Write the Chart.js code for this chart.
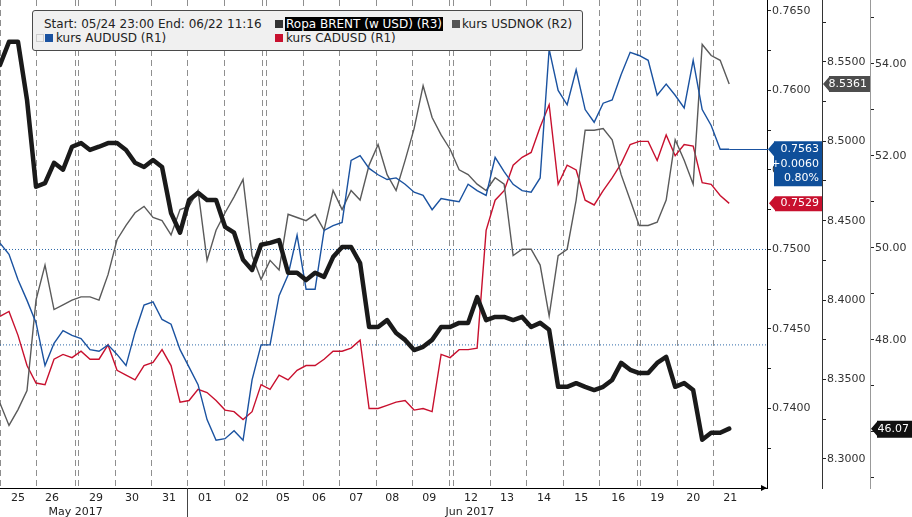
<!DOCTYPE html>
<html>
<head>
<meta charset="utf-8">
<script src="https://cdn.jsdelivr.net/npm/chart.js@4.4.0/dist/chart.umd.min.js"></script>
<style>
  html, body { margin: 0; padding: 0; background: #fff; }
  #wrap { position: relative; width: 912px; height: 517px; font-family: "DejaVu Sans", sans-serif; }
  #legend { position: absolute; left: 32px; top: 10px; width: 549px; height: 39px; background: #f0f0f0;
            border: 1px solid #4a4a4a; border-radius: 3px; font-size: 12px; color: #222; }
  #legend span { position: absolute; white-space: nowrap; line-height: 14px; height: 14px; }
  #legend i { position: absolute; width: 8px; height: 8px; }
  #legend .hl { background: #000; color: #fff; padding: 0 1px; }
</style>
</head>
<body>
<div id="wrap">
  <canvas id="myChart" width="912" height="517"></canvas>
  <div id="legend">
    <span style="left:11px;top:6px">Start: 05/24 23:00 End: 06/22 11:16</span>
    <i style="left:242px;top:9px;background:#333"></i>
    <span class="hl" style="left:252px;top:6px">Ropa BRENT (w USD) (R3)</span>
    <i style="left:419px;top:9px;background:#555"></i>
    <span style="left:429px;top:6px">kurs USDNOK (R2)</span>
    <i style="left:3px;top:23px;width:6px;height:6px;border:1px solid #ccc"></i>
    <i style="left:12px;top:23px;background:#1a52a0"></i>
    <span style="left:23px;top:20px">kurs AUDUSD (R1)</span>
    <i style="left:242px;top:23px;background:#c8102e"></i>
    <span style="left:253px;top:20px">kurs CADUSD (R1)</span>
  </div>
</div>
<script>
// one sample every ~6 trading hours, from 05/24 23:00 to 06/22 11:16
var brent = [
  53.98, 54.48, 54.48, 53.22, 51.33, 51.41, 51.85, 51.70, 52.20, 52.28,
  52.13, 52.20, 52.28, 52.28, 52.13, 51.85, 51.76, 51.91, 51.76, 50.76,
  50.33, 51.04, 51.20, 51.04, 51.04, 50.46, 50.33, 49.74, 49.52, 50.07,
  50.11, 50.17, 49.46, 49.46, 49.30, 49.46, 49.37, 49.80, 50.02, 50.02,
  49.67, 48.28, 48.28, 48.43, 48.15, 48.00, 47.78, 47.85, 48.00, 48.28,
  48.28, 48.37, 48.37, 48.93, 48.43, 48.50, 48.50, 48.43, 48.50, 48.28,
  48.37, 48.22, 46.98, 46.98, 47.06, 46.98, 46.91, 46.98, 47.13, 47.50,
  47.35, 47.28, 47.28, 47.50, 47.63, 46.98, 47.06, 46.91, 45.83, 45.98,
  45.98, 46.07
];
var usdnok = [
  8.335, 8.321, 8.331, 8.343, 8.400, 8.422, 8.394, 8.397, 8.400, 8.402,
  8.402, 8.400, 8.416, 8.438, 8.447, 8.455, 8.459, 8.452, 8.450, 8.441,
  8.457, 8.459, 8.469, 8.425, 8.444, 8.455, 8.465, 8.476, 8.428, 8.413,
  8.425, 8.419, 8.454, 8.452, 8.450, 8.454, 8.444, 8.469, 8.457, 8.469,
  8.463, 8.485, 8.498, 8.479, 8.469, 8.488, 8.508, 8.535, 8.515, 8.504,
  8.495, 8.482, 8.479, 8.473, 8.469, 8.477, 8.473, 8.428, 8.432, 8.432,
  8.422, 8.390, 8.428, 8.432, 8.463, 8.507, 8.507, 8.508, 8.501, 8.479,
  8.463, 8.447, 8.447, 8.449, 8.463, 8.501, 8.488, 8.473, 8.561, 8.554,
  8.551, 8.5361
];
var audusd = [
  0.7504, 0.7497, 0.7481, 0.7468, 0.7454, 0.7427, 0.7441, 0.7449, 0.7446, 0.7444,
  0.7437, 0.7436, 0.7440, 0.7434, 0.7427, 0.7448, 0.7465, 0.7467, 0.7456, 0.7453,
  0.7437, 0.7426, 0.7415, 0.7393, 0.7380, 0.7381, 0.7386, 0.7380, 0.7418, 0.7440,
  0.7440, 0.7471, 0.7484, 0.7509, 0.7475, 0.7475, 0.7512, 0.7515, 0.7517, 0.7556,
  0.7559, 0.7551, 0.7547, 0.7544, 0.7545, 0.7541, 0.7536, 0.7534, 0.7525, 0.7532,
  0.7531, 0.7530, 0.7541, 0.7537, 0.7534, 0.7558, 0.7549, 0.7541, 0.7537, 0.7536,
  0.7545, 0.7626, 0.7600, 0.7591, 0.7613, 0.7588, 0.7580, 0.7592, 0.7594, 0.7610,
  0.7624, 0.7622, 0.7619, 0.7597, 0.7604, 0.7597, 0.7589, 0.7619, 0.7588, 0.7578,
  0.7563, 0.7563
];
var cadusd = [
  0.7458, 0.7461, 0.7446, 0.7427, 0.7416, 0.7415, 0.7431, 0.7434, 0.7432, 0.7436,
  0.7431, 0.7431, 0.7440, 0.7424, 0.7421, 0.7418, 0.7427, 0.7429, 0.7437, 0.7427,
  0.7404, 0.7405, 0.7412, 0.7410, 0.7405, 0.7399, 0.7398, 0.7393, 0.7398, 0.7415,
  0.7412, 0.7421, 0.7418, 0.7424, 0.7427, 0.7427, 0.7431, 0.7436, 0.7436, 0.7438,
  0.7443, 0.7400, 0.7400, 0.7402, 0.7404, 0.7405, 0.7399, 0.7400, 0.7398, 0.7434,
  0.7432, 0.7437, 0.7437, 0.7438, 0.7512, 0.7531, 0.7537, 0.7553, 0.7558, 0.7561,
  0.7577, 0.7591, 0.7541, 0.7553, 0.7550, 0.7531, 0.7528, 0.7537, 0.7545, 0.7554,
  0.7566, 0.7568, 0.7568, 0.7556, 0.7572, 0.7559, 0.7566, 0.7565, 0.7542, 0.7541,
  0.7534, 0.7529
];
var audChange = '+0.0060';
var audChangePct = '0.80%';

// dotted reference lines (R1)
var hLines = [0.7500, 0.7440];

// time axis, in samples
var xMax = 85.2;
var dayBreaks = [0, 4, 8.33, 8.67, 12.78, 16.78, 20.78, 24.89, 29.11, 29.56, 33.67, 37.67,
                 41.78, 45.78, 49.89, 50.33, 54.44, 58.44, 62.56, 66.56, 70.78, 71.11, 75.22, 79.22];
var dayLabels = ['25', '26', '29', '30', '31', '01', '02', '05', '06', '07', '08', '09',
                 '12', '13', '14', '15', '16', '19', '20', '21'];
var dayCentres = [2, 5.78, 10.67, 14.67, 18.78, 22.78, 26.89, 31.44, 35.44, 39.56, 43.56, 47.67,
                  52.33, 56.33, 60.44, 64.56, 68.67, 73, 77, 81.11];
var monthLabels = ['May 2017', 'Jun 2017'];
var monthCentres = [8.4, 52.2];
var monthBreak = 20.78;

// right axes
var r1Ticks = [0.7375, 0.74, 0.7425, 0.745, 0.7475, 0.75, 0.7525, 0.755, 0.7575, 0.76, 0.7625, 0.765];
var r2Ticks = [8.3, 8.325, 8.35, 8.375, 8.4, 8.425, 8.45, 8.475, 8.5, 8.525, 8.55, 8.575];
var r3Ticks = [45, 46, 47, 48, 49, 50, 51, 52, 53, 54, 55];

var fam = '"DejaVu Sans", sans-serif';
Chart.defaults.font.family = fam;
Chart.defaults.font.size = 11;
Chart.defaults.color = '#222';

var xTicks = [];
dayCentres.forEach(function (v, i) { xTicks.push({ value: v, label: dayLabels[i] }); });
monthCentres.forEach(function (v, i) { xTicks.push({ value: v, label: ['', monthLabels[i]] }); });
xTicks.sort(function (a, b) { return a.value - b.value; });

function toPts(arr) {
    return arr.map(function (v, i) { return { x: i, y: v }; });
}

function noPad(s) {
    s.paddingTop = 0; s.paddingBottom = 0; s.paddingLeft = 0; s.paddingRight = 0;
}

function rightAxis(min, max, ticks, isLabel, fmt, width, color) {
    return {
        type: 'linear', position: 'right', min: min, max: max,
        afterBuildTicks: function (s) { s.ticks = ticks.map(function (v) { return { value: v }; }); },
        ticks: {
            padding: 1, color: '#333',
            callback: function (v) { return isLabel(v) ? v.toFixed(fmt) : ''; }
        },
        grid: { drawOnChartArea: false, tickLength: 4, tickColor: '#222' },
        border: { color: color, width: 1 },
        afterFit: function (s) { s.width = width; noPad(s); }
    };
}

function drawTag(ctx, left, right, top, height, tipY, color, lines) {
    ctx.fillStyle = color;
    ctx.beginPath();
    ctx.moveTo(left, tipY);
    ctx.lineTo(left + 6, tipY - 7);
    ctx.lineTo(left + 6, top);
    ctx.lineTo(right, top);
    ctx.lineTo(right, top + height);
    ctx.lineTo(left + 6, top + height);
    ctx.lineTo(left + 6, tipY + 7);
    ctx.closePath();
    ctx.fill();
    ctx.fillStyle = '#fff';
    ctx.font = '11px ' + fam;
    ctx.textAlign = 'right';
    ctx.textBaseline = 'middle';
    lines.forEach(function (t, i) { ctx.fillText(t, right - 3, tipY + i * 14.5); });
}

var extras = {
    id: 'extras',
    beforeDatasetsDraw: function (chart) {
        var ctx = chart.ctx, a = chart.chartArea, x = chart.scales.x;
        ctx.save();
        ctx.strokeStyle = '#8f8f8f';
        ctx.lineWidth = 1;
        ctx.setLineDash([6, 4]);
        dayBreaks.forEach(function (d) {
            var px = Math.round(x.getPixelForValue(d)) + 0.5;
            ctx.beginPath(); ctx.moveTo(px, a.top); ctx.lineTo(px, a.bottom); ctx.stroke();
        });
        ctx.restore();
    },
    afterDraw: function (chart) {
        var ctx = chart.ctx, a = chart.chartArea, s = chart.scales;
        ctx.save();
        // month separator under the axis
        var mx = Math.round(s.x.getPixelForValue(monthBreak)) + 0.5;
        ctx.strokeStyle = '#444'; ctx.lineWidth = 1;
        ctx.beginPath(); ctx.moveTo(mx, a.bottom); ctx.lineTo(mx, chart.height); ctx.stroke();
        // arrow at the end of the time axis
        ctx.fillStyle = '#000';
        ctx.beginPath(); ctx.moveTo(a.right, a.bottom); ctx.lineTo(a.right - 6, a.bottom - 3);
        ctx.lineTo(a.right - 6, a.bottom + 3); ctx.closePath(); ctx.fill();

        var last = audusd.length - 1;
        var endX = s.x.getPixelForValue(last);
        var yAud = s.r1.getPixelForValue(audusd[last]);
        ctx.strokeStyle = '#1a52a0';
        ctx.beginPath(); ctx.moveTo(endX, Math.round(yAud) + 0.5); ctx.lineTo(a.right + 1, Math.round(yAud) + 0.5); ctx.stroke();
        drawTag(ctx, a.right + 1, a.right + 55, yAud - 8, 45, yAud, '#0f4f9a',
                [audusd[last].toFixed(4), audChange, audChangePct]);
        var yCad = s.r1.getPixelForValue(cadusd[last]);
        drawTag(ctx, a.right + 2, a.right + 55, yCad - 7, 15, yCad, '#c8102e', [cadusd[last].toFixed(4)]);
        var yNok = s.r2.getPixelForValue(usdnok[last]);
        drawTag(ctx, s.r2.left + 1, s.r2.right, yNok - 8, 16, yNok, '#4d4d4d', [usdnok[last].toFixed(4)]);
        var yBr = s.r3.getPixelForValue(brent[last]);
        drawTag(ctx, s.r3.left + 1, s.r3.right, yBr - 8, 17, yBr, '#111', [brent[last].toFixed(2)]);
        ctx.restore();
    }
};

var datasets = [
    { label: 'Ropa BRENT (w USD) (R3)', data: toPts(brent), yAxisID: 'r3', borderColor: '#1a1a1a', borderWidth: 4.5, borderJoinStyle: 'round', borderCapStyle: 'round' },
    { label: 'kurs AUDUSD (R1)', data: toPts(audusd), yAxisID: 'r1', borderColor: '#1a52a0', borderWidth: 1.4 },
    { label: 'kurs USDNOK (R2)', data: toPts(usdnok), yAxisID: 'r2', borderColor: '#5a5a5a', borderWidth: 1.4 },
    { label: 'kurs CADUSD (R1)', data: toPts(cadusd), yAxisID: 'r1', borderColor: '#c8102e', borderWidth: 1.4 }
];
hLines.forEach(function (v) {
    datasets.push({ data: [{ x: 0, y: v }, { x: xMax, y: v }], yAxisID: 'r1', borderColor: '#2f6aa8', borderWidth: 1, borderDash: [1, 2] });
});

var ctx = document.getElementById('myChart').getContext('2d');

var myChart = new Chart(ctx, {
    type: 'line',
    data: { datasets: datasets },
    plugins: [extras],
    options: {
        responsive: false,
        animation: false,
        layout: { padding: 0 },
        elements: { point: { radius: 0 }, line: { tension: 0 } },
        plugins: { legend: { display: false }, tooltip: { enabled: false } },
        scales: {
            x: {
                type: 'linear', position: 'bottom', min: 0, max: xMax,
                afterBuildTicks: function (s) { s.ticks = xTicks.map(function (t) { return { value: t.value }; }); },
                ticks: {
                    autoSkip: false, maxRotation: 0, padding: 4, color: '#222',
                    callback: function (v, i) { return xTicks[i].label; }
                },
                grid: { display: false, drawTicks: false },
                border: { display: true, color: '#000', width: 1 },
                afterFit: function (s) { s.height = 29; noPad(s); }
            },
            r1: Object.assign(rightAxis(0.7350, 0.76569, r1Ticks,
                function (v) { return Math.round(v * 10000) % 50 === 0; }, 4, 55, '#000'), { weight: 0 }),
            r2: Object.assign(rightAxis(8.2816, 8.589, r2Ticks,
                function (v) { return Math.round(v * 1000) % 50 === 0; }, 4, 48, '#333'), { weight: 1 }),
            r3: Object.assign(rightAxis(44.78, 55.39, r3Ticks,
                function (v) { return v % 2 === 0; }, 2, 42, '#999'), { weight: 2 })
        }
    }
});
</script>
</body>
</html>
